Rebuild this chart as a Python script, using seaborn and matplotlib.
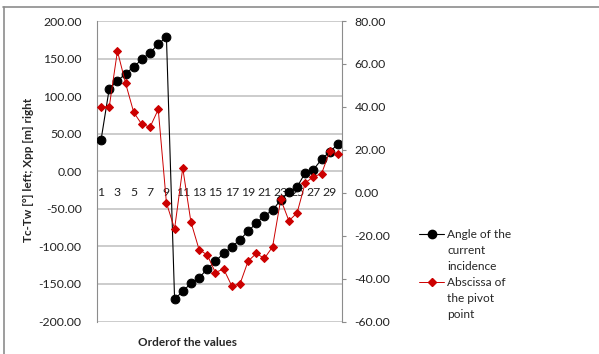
import matplotlib
matplotlib.use("Agg")
import matplotlib.pyplot as plt
from matplotlib.lines import Line2D
import seaborn as sns
import pandas as pd
import numpy as np

order = list(range(1, 31))
angle_incidence = [42, 110, 120, 130, 139, 149, 158, 169, 179, -170,
                   -160, -149, -142, -130, -120, -109, -101, -91, -80, -69,
                   -59, -52, -38, -28, -21, -2, 2, 16, 26, 36]
abscissa_pivot = [40, 40, 66, 51, 37.4, 31.8, 30.6, 38.8, -4.7, -16.8,
                  11.5, -13.6, -26.5, -29, -37.2, -35.5, -43.4, -42.6, -31.9, -28.3,
                  -30.6, -25.2, -3.1, -13.1, -9.4, 4.6, 7.4, 8.9, 19.3, 17.9]
xtick_labels = [str(v) for v in range(1, 30, 2)]
left_ticks = list(range(-200, 201, 50))
right_ticks = list(range(-60, 81, 20))

sns.set_style("white")
plt.rcParams['font.family'] = ['Lato', 'DejaVu Sans']

df = pd.DataFrame({"order": order, "angle": angle_incidence, "xpp": abscissa_pivot})

W, H = 599, 354
fig = plt.figure(figsize=(W / 100, H / 100), dpi=100)
ax = fig.add_axes([97 / W, 1 - 321.5 / H, (342 - 97) / W, (321.5 - 21) / H])
ax2 = ax.twinx()

sns.lineplot(data=df, x="order", y="angle", ax=ax, color="#000000", lw=0.8,
             marker="o", markersize=6.3, markeredgecolor="#000000", zorder=3)
sns.lineplot(data=df, x="order", y="xpp", ax=ax2, color="#cc0000", lw=0.7,
             marker="D", markersize=4.0, markeredgecolor="#cc0000", zorder=3)

grid_c = "#c8c8c8"
ax.set_xlim(0.5, 30.5)
ax.set_ylim(-200, 200)
ax2.set_ylim(-60, 80)
ax.set_yticks(left_ticks)
ax.set_yticklabels([f"{v:.2f}" for v in left_ticks])
ax2.set_yticks(right_ticks)
ax2.set_yticklabels([f"{v:.2f}" for v in right_ticks])
for y in left_ticks:
    ax.axhline(y, color=grid_c, lw=1.3, zorder=0)

ax.set_xticks(list(range(1, 30, 2)))
ax.set_xticklabels(xtick_labels)
ax.spines['bottom'].set_position(('axes', 60 / 140))
for a in (ax, ax2):
    for s in a.spines.values():
        s.set_visible(False)
ax.spines['left'].set_visible(True)
ax2.spines['right'].set_visible(True)
ax.spines['left'].set_color("#8c8c8c")
ax2.spines['right'].set_color("#8c8c8c")
fs = 8.8
ax.tick_params(axis='x', length=0, pad=0, labelsize=fs, colors="#222222")
for t in ax.get_xticklabels():
    t.set_va('center')
ax.tick_params(axis='y', length=0, pad=11, labelsize=fs, colors="#222222")
ax2.tick_params(axis='y', length=3, width=0.8, color="#8c8c8c", pad=6, labelsize=fs, labelcolor="#222222")
ax.set_xlabel("")
ax.set_ylabel("")
ax2.set_ylabel("")

fig.text(29 / W, 1 - 170 / H, "Tc-Tw [°] left; Xpp [m] right", rotation=90,
         ha='center', va='center', fontsize=8.5, fontweight='bold')
fig.text(188 / W, 1 - 343 / H, "Orderof the values", ha='center', va='center',
         fontsize=8.5, fontweight='bold')

# chart border
fig.add_artist(Line2D([3 / W, 1], [1 - 6.5 / H, 1 - 6.5 / H], color="#8c8c8c", lw=1.2))
fig.add_artist(Line2D([3.5 / W, 3.5 / W], [0, 1 - 6.5 / H], color="#8c8c8c", lw=1.2))

blank = Line2D([], [], color='none')
h_black = Line2D([], [], color="#000000", lw=0.8, marker="o", markersize=6)
h_red = Line2D([], [], color="#cc0000", lw=0.7, marker="D", markersize=4.0)
handles = [h_black, blank, blank, h_red, blank, blank]
labels = ["Angle of the", "current", "incidence", "Abscissa of", "the pivot", "point"]
fig.legend(handles, labels, loc='upper left', bbox_to_anchor=(419 / W, 1 - 229 / H),
           frameon=False, fontsize=8.6, labelspacing=0.42, handlelength=2.1,
           handletextpad=0.25, borderpad=0, borderaxespad=0)

fig.savefig("out.png", dpi=100)
